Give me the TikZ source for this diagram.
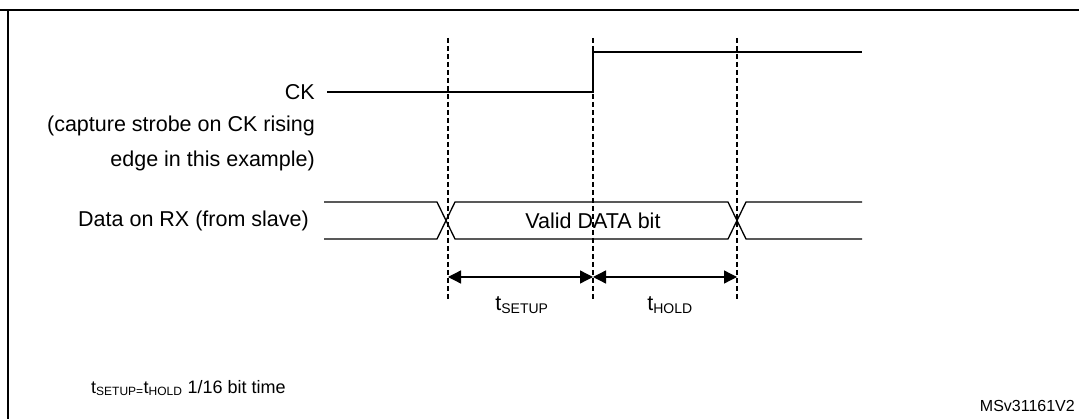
\documentclass[tikz,border=0pt]{standalone}
\usepackage{fontspec}
\setmainfont{Liberation Sans}
\usetikzlibrary{arrows.meta}
\begin{document}
\begin{tikzpicture}[x=1pt,y=-1pt,
  sig/.style={line width=1.3pt},
  dsh/.style={line width=1.2pt,dash pattern=on 5pt off 3pt},
  dim/.style={line width=1.3pt,{Triangle[length=13pt,width=13pt]}-{Triangle[length=13pt,width=13pt]}},
  lbl/.style={inner sep=0pt,font=\fontsize{21.5}{25}\selectfont}]
\newcommand{\sbs}[1]{\textsubscript{\fontsize{14}{17}\selectfont #1}}
\newcommand{\sbb}[1]{\textsubscript{\fontsize{12}{14}\selectfont #1}}
\useasboundingbox (0,0) rectangle (1079,419);
\draw[line width=2pt] (0,10) -- (1079,10);
\draw[line width=2pt] (8,10) -- (8,419);
% CK
\coordinate (ck0) at (327,92);
\coordinate (ckr) at (593,92);
\coordinate (ckh) at (593,52);
\coordinate (ck1) at (862,52);
\draw[sig] (ck0) -- (ckr) -- (ckh) -- (ck1);
\node[lbl,anchor=east] (ck) at (315,92) {CK};
\node[lbl,anchor=east] (cap1) at (315,126) {(capture strobe on CK rising};
\node[lbl,anchor=east] (cap2) at (315,161) {edge in this example)};
% Data
\node[lbl,anchor=east] (rx) at (309,221) {Data on RX (from slave)};
\draw[sig] (324,202) -- (437,202) -- (455,239) -- (728,239) -- (746,202) -- (862,202);
\draw[sig] (324,239) -- (437,239) -- (455,202) -- (728,202) -- (746,239) -- (862,239);
\node[lbl] (valid) at (593,221) {Valid DATA bit};
% dashed lines
\coordinate (d1t) at (448,38); \coordinate (d1b) at (448,300);
\coordinate (d2t) at (593,38); \coordinate (d2b) at (593,300);
\coordinate (d3t) at (737,38); \coordinate (d3b) at (737,300);
\draw[dsh] (d1t) -- (d1b);
\draw[dsh] (d2t) -- (d2b);
\draw[dsh] (d3t) -- (d3b);
\coordinate (a1) at (448,277); \coordinate (a2) at (593,277); \coordinate (a3) at (737,277);
\draw[dim] (a1) -- (a2);
\draw[dim] (a2) -- (a3);
\node[lbl] (ts) at (522,305) {t\sbs{SETUP}};
\node[lbl] (th) at (670,305) {t\sbs{HOLD}};
\node[anchor=west,inner sep=0pt,font=\fontsize{18}{21}\selectfont] (eq) at (91,388) {t\sbb{SETUP=}t\sbb{HOLD} 1/16 bit time};
\node[anchor=east,inner sep=0pt,font=\fontsize{16}{19}\selectfont] (id) at (1075,406) {MSv31161V2};
\end{tikzpicture}
\end{document}
